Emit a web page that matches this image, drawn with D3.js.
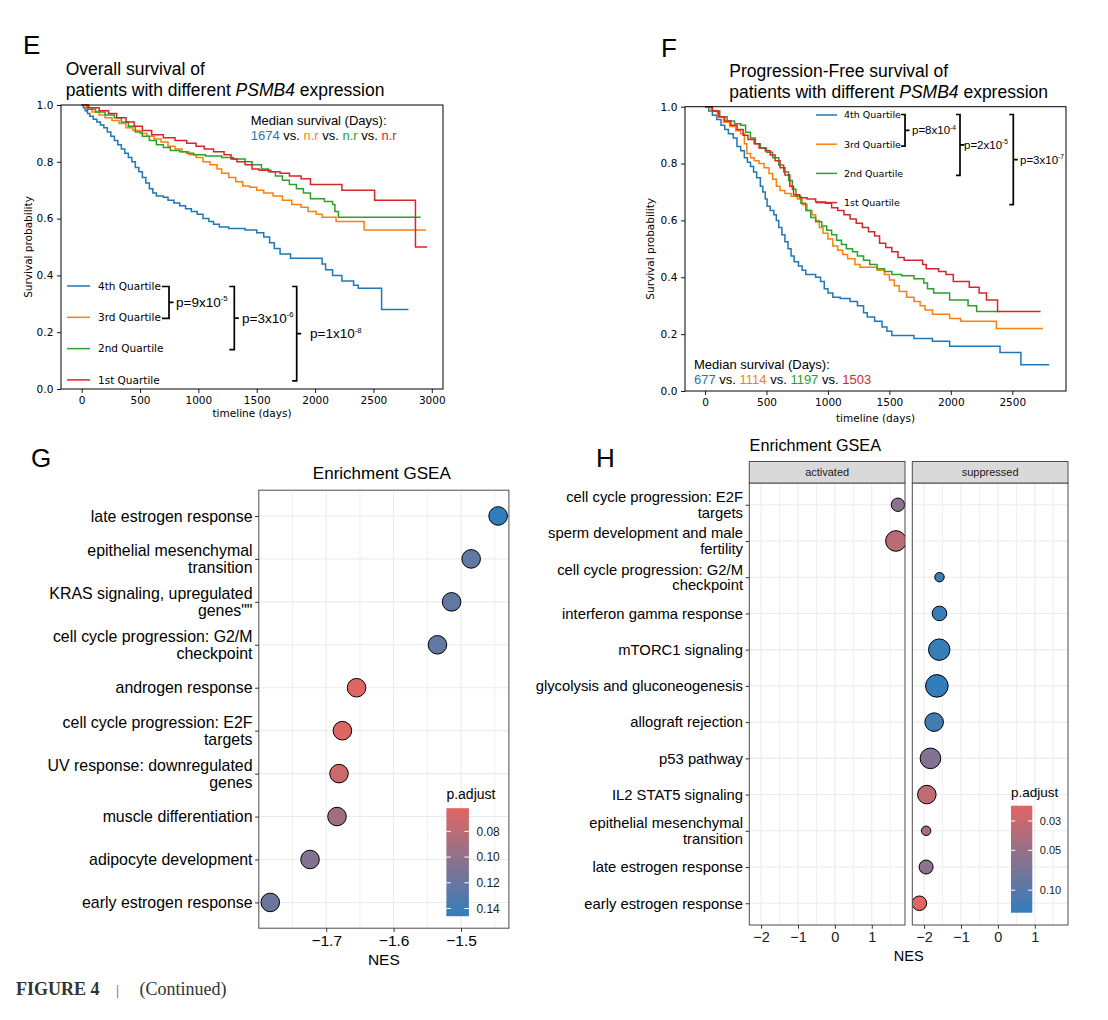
<!DOCTYPE html>
<html>
<head>
<meta charset="utf-8">
<script src="https://cdn.jsdelivr.net/npm/d3@7"></script>
<style>
  body { margin: 0; background: #fff; }
  svg { display: block; }
</style>
</head>
<body>
<svg id="fig" width="1108" height="1020"></svg>
<script>
// ---------- data ----------
const quartileLabels = ["4th Quartile", "3rd Quartile", "2nd Quartile", "1st Quartile"];
const quartileColors = ["#1f77b4", "#ff7f0e", "#2ca02c", "#d62728"];

// overall survival, [days, survival probability]
const osQ4 = [[0,1],[15,0.99],[30,0.98],[50,0.97],[70,0.96],[100,0.95],[130,0.94],[160,0.93],[190,0.92],
  [220,0.905],[250,0.89],[280,0.875],[310,0.86],[340,0.845],[370,0.83],[400,0.815],[430,0.8],[460,0.78],
  [490,0.765],[520,0.745],[550,0.725],[580,0.705],[610,0.69],[640,0.68],[700,0.675],[740,0.665],[790,0.655],
  [840,0.645],[890,0.635],[940,0.625],[990,0.615],[1040,0.6],[1090,0.59],[1130,0.58],[1180,0.57],[1260,0.565],
  [1400,0.56],[1500,0.55],[1560,0.535],[1610,0.515],[1650,0.495],[1700,0.475],[1790,0.46],[2060,0.44],
  [2090,0.42],[2150,0.4],[2230,0.38],[2330,0.365],[2370,0.355],[2570,0.28],[2800,0.28]];
const osQ3 = [[0,1],[40,0.985],[90,0.975],[150,0.965],[200,0.955],[260,0.945],[320,0.935],[380,0.92],
  [440,0.91],[500,0.9],[560,0.89],[620,0.88],[680,0.87],[740,0.855],[800,0.845],[860,0.835],[920,0.825],
  [980,0.815],[1040,0.8],[1100,0.79],[1160,0.775],[1200,0.76],[1260,0.745],[1320,0.73],[1380,0.715],
  [1440,0.71],[1500,0.7],[1560,0.69],[1640,0.68],[1720,0.665],[1800,0.65],[1880,0.64],[1940,0.625],
  [2010,0.615],[2060,0.605],[2180,0.59],[2420,0.56],[2950,0.56]];
const osQ2 = [[0,1],[50,0.985],[120,0.975],[200,0.965],[280,0.955],[340,0.94],[400,0.925],[460,0.905],
  [520,0.89],[580,0.875],[640,0.86],[700,0.85],[760,0.84],[840,0.835],[900,0.83],[960,0.825],[1060,0.82],
  [1200,0.815],[1300,0.81],[1400,0.8],[1460,0.79],[1540,0.775],[1600,0.765],[1660,0.75],[1720,0.735],
  [1780,0.72],[1840,0.705],[1900,0.69],[1960,0.67],[2080,0.66],[2150,0.65],[2170,0.625],[2200,0.605],[2905,0.605]];
const osQ1 = [[0,1],[60,0.99],[150,0.98],[230,0.97],[300,0.955],[380,0.94],[450,0.925],[520,0.91],
  [600,0.895],[700,0.885],[800,0.875],[900,0.865],[980,0.855],[1050,0.845],[1130,0.835],[1220,0.825],
  [1280,0.81],[1330,0.8],[1400,0.79],[1460,0.775],[1520,0.77],[1620,0.765],[1700,0.76],[1780,0.75],
  [1880,0.74],[1960,0.72],[2230,0.7],[2510,0.665],[2860,0.5],[2960,0.5]];

// progression-free survival, [days, survival probability]
const pfsQ4 = [[0,1],[30,0.985],[60,0.97],[95,0.955],[130,0.935],[160,0.92],[190,0.905],[230,0.89],
  [260,0.86],[290,0.845],[320,0.82],[345,0.805],[370,0.79],[395,0.77],[420,0.75],[450,0.72],[470,0.7],
  [490,0.675],[505,0.65],[530,0.635],[560,0.62],[580,0.6],[600,0.575],[625,0.55],[650,0.525],[675,0.5],
  [700,0.475],[725,0.455],[760,0.44],[790,0.425],[820,0.41],[900,0.4],[940,0.385],[970,0.36],[1000,0.345],
  [1040,0.33],[1100,0.325],[1180,0.315],[1240,0.3],[1290,0.275],[1320,0.26],[1380,0.245],[1440,0.225],
  [1480,0.21],[1520,0.195],[1700,0.185],[1850,0.175],[1990,0.157],[2400,0.135],[2570,0.092],[2800,0.092]];
const pfsQ3 = [[0,1],[50,0.985],[100,0.965],[150,0.945],[200,0.93],[250,0.915],[290,0.905],[320,0.87],
  [340,0.835],[370,0.82],[400,0.81],[440,0.8],[480,0.785],[520,0.765],[550,0.745],[580,0.72],[610,0.705],
  [650,0.695],[700,0.685],[750,0.675],[790,0.655],[830,0.635],[870,0.62],[900,0.6],[930,0.575],[960,0.555],
  [1000,0.535],[1040,0.51],[1080,0.495],[1120,0.48],[1160,0.465],[1220,0.445],[1260,0.435],[1400,0.425],
  [1460,0.41],[1500,0.39],[1540,0.37],[1580,0.35],[1640,0.33],[1700,0.315],[1750,0.3],[1790,0.285],
  [1850,0.27],[1990,0.255],[2080,0.245],[2370,0.22],[2750,0.22]];
const pfsQ2 = [[0,1],[60,0.985],[120,0.965],[180,0.95],[240,0.94],[290,0.935],[330,0.91],[370,0.89],
  [410,0.87],[450,0.855],[500,0.84],[550,0.82],[600,0.795],[640,0.77],[680,0.74],[710,0.71],[740,0.685],
  [780,0.66],[820,0.635],[860,0.61],[900,0.595],[950,0.58],[990,0.565],[1030,0.55],[1070,0.53],[1110,0.515],
  [1150,0.5],[1200,0.49],[1240,0.475],[1290,0.46],[1340,0.445],[1400,0.43],[1460,0.42],[1520,0.41],
  [1600,0.405],[1700,0.395],[1780,0.38],[1810,0.36],[1860,0.345],[1990,0.32],[2140,0.3],[2210,0.28],[2390,0.28]];
const pfsQ1 = [[0,1],[60,0.985],[110,0.965],[160,0.95],[210,0.935],[260,0.92],[310,0.9],[350,0.885],
  [400,0.87],[440,0.855],[490,0.845],[530,0.83],[570,0.81],[610,0.785],[650,0.76],[690,0.72],[720,0.69],
  [770,0.68],[830,0.675],[900,0.665],[980,0.66],[1030,0.645],[1080,0.635],[1130,0.62],[1180,0.605],
  [1230,0.59],[1280,0.575],[1330,0.56],[1380,0.545],[1420,0.52],[1470,0.505],[1520,0.49],[1570,0.47],
  [1620,0.46],[1770,0.445],[1800,0.43],[1900,0.42],[1960,0.41],[2020,0.385],[2150,0.365],[2230,0.345],
  [2290,0.32],[2380,0.28],[2730,0.28]];

const osMedian = ["1674", "n.r", "n.r", "n.r"];
const pfsMedian = ["677", "1114", "1197", "1503"];
const osPvalues = [["9", "-5"], ["3", "-6"], ["1", "-8"]];   // 4th vs 3rd, vs 2nd, vs 1st
const pfsPvalues = [["8", "-4"], ["2", "-5"], ["3", "-7"]];
const osTicks = [0, 500, 1000, 1500, 2000, 2500, 3000];
const pfsTicks = [0, 500, 1000, 1500, 2000, 2500];
const survTicks = [0, 0.2, 0.4, 0.6, 0.8, 1.0];

// panel G, GSEA
const gTerms = ["late estrogen response", "epithelial mesenchymal\ntransition",
  "KRAS signaling, upregulated\ngenes\"\"", "cell cycle progression: G2/M\ncheckpoint",
  "androgen response", "cell cycle progression: E2F\ntargets", "UV response: downregulated\ngenes",
  "muscle differentiation", "adipocyte development", "early estrogen response"];
const gNES = [-1.445, -1.485, -1.514, -1.535, -1.655, -1.676, -1.681, -1.684, -1.724, -1.783];
const gPadj = [0.146, 0.123, 0.123, 0.123, 0.062, 0.064, 0.071, 0.094, 0.107, 0.119];
const gTicks = [-1.7, -1.6, -1.5];
const gLegendBreaks = [0.08, 0.10, 0.12, 0.14];

// panel H, GSEA split by sign
const hTerms = ["cell cycle progression: E2F\ntargets", "sperm development and male\nfertility",
  "cell cycle progression: G2/M\ncheckpoint", "interferon gamma response", "mTORC1 signaling",
  "glycolysis and gluconeogenesis", "allograft rejection", "p53 pathway", "IL2 STAT5 signaling",
  "epithelial mesenchymal\ntransition", "late estrogen response", "early estrogen response"];
const hSign = ["activated", "activated", "suppressed", "suppressed", "suppressed", "suppressed",
  "suppressed", "suppressed", "suppressed", "suppressed", "suppressed", "suppressed"];
const hNES = [1.708, 1.654, -1.583, -1.583, -1.59, -1.654, -1.728, -1.828, -1.926, -1.946, -1.946, -2.128];
const hPadj = [0.058, 0.034, 0.135, 0.138, 0.145, 0.148, 0.123, 0.063, 0.033, 0.043, 0.056, 0.023];
const hCount = [42, 100, 21, 50, 108, 120, 81, 100, 81, 21, 46, 50];
const hFacets = ["activated", "suppressed"];
const hTicks = [-2, -1, 0, 1];
const hLegendBreaks = [0.03, 0.05, 0.10];

// ---------- drawing ----------
const SANS = "'Liberation Sans', Arial, Helvetica, sans-serif";
const MPL = "'DejaVu Sans', sans-serif";
const SERIF = "'Liberation Serif', 'Times New Roman', serif";

const svg = d3.select("#fig");
svg.append("rect").attr("width", 1108).attr("height", 1020).attr("fill", "#fff");

function panelLetter(txt, x, y) {
  svg.append("text").attr("x", x).attr("y", y)
    .attr("font-family", SANS).attr("font-size", 26).attr("fill", "#000").text(txt);
}

function kmPanel(o) {
  const g = svg.append("g");
  const x = d3.scaleLinear().domain(o.xDomain).range([o.left, o.right]);
  const y = d3.scaleLinear().domain([0, 1]).range([o.bottom, o.top]);

  const xAxis = g.append("g").attr("transform", `translate(0,${o.bottom})`)
    .call(d3.axisBottom(x).tickValues(o.xTicks).tickFormat(d3.format("d")).tickSize(4).tickPadding(3.5));
  const yAxis = g.append("g").attr("transform", `translate(${o.left},0)`)
    .call(d3.axisLeft(y).tickValues(survTicks).tickFormat(d3.format(".1f")).tickSize(4).tickPadding(3.7));
  [xAxis, yAxis].forEach(a => {
    a.attr("font-family", MPL).attr("font-size", 10.5);
    a.select(".domain").remove();
    a.selectAll(".tick line").attr("stroke", "#000").attr("stroke-width", 0.9);
    a.selectAll(".tick text").attr("fill", "#000");
  });

  const line = d3.line().x(d => x(d[0])).y(d => y(d[1])).curve(d3.curveStepAfter);
  g.selectAll("path.km")
    .data(o.curves)
    .enter()
    .append("path")
    .attr("class", "km")
    .attr("d", line)
    .attr("fill", "none")
    .attr("stroke", (d, i) => quartileColors[i])
    .attr("stroke-width", 1.5);

  g.append("rect")
    .attr("x", o.left).attr("y", o.top)
    .attr("width", o.right - o.left).attr("height", o.bottom - o.top)
    .attr("fill", "none").attr("stroke", "#000").attr("stroke-width", 1);

  // axis titles
  g.append("text").attr("x", (o.left + o.right) / 2).attr("y", o.xLabelY)
    .attr("text-anchor", "middle").attr("font-family", MPL).attr("font-size", 10.5)
    .text("timeline (days)");
  g.append("text").attr("transform", `translate(${o.yLabelX},${(o.top + o.bottom) / 2}) rotate(-90)`)
    .attr("text-anchor", "middle").attr("dy", "0.35em")
    .attr("font-family", MPL).attr("font-size", 10.5).text("Survival probability");

  // title
  const title = g.append("g").attr("font-family", SANS).attr("font-size", 17.5).attr("fill", "#000");
  title.append("text").attr("x", o.titleX).attr("y", o.titleY).attr("dy", "0.35em").text(o.title);
  const t2 = title.append("text").attr("x", o.titleX).attr("y", o.titleY + 21.5).attr("dy", "0.35em");
  t2.append("tspan").text("patients with different ");
  t2.append("tspan").attr("font-style", "italic").text("PSMB4");
  t2.append("tspan").text(" expression");

  // legend
  const legY = i => o.legTop + i * o.legStep;
  const leg = g.append("g").attr("font-family", MPL).attr("font-size", o.legFont);
  leg.selectAll("line")
    .data(quartileLabels)
    .enter()
    .append("line")
    .attr("x1", o.legX).attr("x2", o.legX + o.legLen)
    .attr("y1", (d, i) => legY(i)).attr("y2", (d, i) => legY(i))
    .attr("stroke", (d, i) => quartileColors[i]).attr("stroke-width", 1.5);
  leg.selectAll("text")
    .data(quartileLabels)
    .enter()
    .append("text")
    .attr("x", o.legX + o.legLen + o.legGap)
    .attr("y", (d, i) => legY(i)).attr("dy", "0.35em")
    .text(d => d);

  // brackets with log-rank p-values
  o.pvalues.forEach((p, k) => {
    const yt = legY(0) + o.brTop, yb = legY(k + 1) + o.brBot;
    const bx = o.brX[k], arm = o.brArm[k], ym = (yt + yb) / 2;
    g.append("path")
      .attr("d", `M${bx - arm},${yt}H${bx}V${yb}H${bx - arm}M${bx},${ym}H${bx + 4.5}`)
      .attr("fill", "none").attr("stroke", "#000").attr("stroke-width", 1.7);
    const t = g.append("text").attr("x", o.pX[k]).attr("y", ym).attr("dy", "0.35em")
      .attr("font-family", SANS).attr("font-size", o.pFont).text(`p=${p[0]}x10`);
    t.append("tspan").attr("dy", -o.pFont * 0.42).attr("font-size", o.pFont * 0.58).text(p[1]);
  });

  // median survival
  const med = g.append("g").attr("font-family", SANS).attr("font-size", 13);
  med.append("text").attr("x", o.medX).attr("y", o.medY).attr("dy", "0.35em").text("Median survival (Days):");
  const mt = med.append("text").attr("x", o.medX).attr("y", o.medY + 15.5).attr("dy", "0.35em");
  o.median.forEach((m, i) => {
    if (i > 0) mt.append("tspan").attr("fill", "#000").text(" vs. ");
    mt.append("tspan").attr("fill", quartileColors[i]).text(m);
  });
}

kmPanel({
  left: 61, right: 443, top: 105, bottom: 389, xDomain: [-177, 3096], xTicks: osTicks,
  curves: [osQ4, osQ3, osQ2, osQ1],
  xLabelY: 417, yLabelX: 28.5,
  title: "Overall survival of", titleX: 65.7, titleY: 68.5,
  legX: 67, legLen: 23, legGap: 8, legTop: 286, legStep: 31.3, legFont: 10.5,
  pvalues: osPvalues, brX: [169, 234.3, 296.7], brArm: [7, 5, 4.5], brTop: 0.5, brBot: 1,
  pX: [176, 242, 310], pFont: 13.5,
  median: osMedian, medX: 250.7, medY: 120
});

kmPanel({
  left: 685, right: 1066, top: 106.7, bottom: 391, xDomain: [-163, 2937], xTicks: pfsTicks,
  curves: [pfsQ4, pfsQ3, pfsQ2, pfsQ1],
  xLabelY: 421.5, yLabelX: 650,
  title: "Progression-Free survival of", titleX: 729.3, titleY: 70.7,
  legX: 816, legLen: 21, legGap: 7, legTop: 115, legStep: 29.2, legFont: 9.5,
  pvalues: pfsPvalues, brX: [905, 960, 1013.3], brArm: [4, 4, 4], brTop: -0.5, brBot: 2,
  pX: [912, 964, 1020], pFont: 11.5,
  median: pfsMedian, medX: 694, medY: 364.3
});

panelLetter("E", 23, 53.5);
panelLetter("F", 661, 56.5);
panelLetter("G", 31, 467);
panelLetter("H", 596, 466.5);

// ---------- GSEA helpers ----------
function wrapLabels(axisG, offset) {
  axisG.selectAll(".tick text").each(function (d) {
    const lines = d.split("\n");
    const t = d3.select(this).text(null).attr("dy", null);
    lines.forEach((l, i) => {
      t.append("tspan").attr("x", -offset)
        .attr("dy", i === 0 ? (0.32 - (lines.length - 1) * 0.535) + "em" : "1.07em")
        .text(l);
    });
  });
}

function colorbar(o) {
  const grad = svg.append("defs").append("linearGradient")
    .attr("id", o.id).attr("x1", 0).attr("y1", 0).attr("x2", 0).attr("y2", 1);
  d3.range(0, 1.0001, 0.1).forEach(t => {
    grad.append("stop").attr("offset", t)
      .attr("stop-color", o.color(o.pos.invert(o.top + t * (o.bottom - o.top))));
  });
  svg.append("text").attr("x", o.x).attr("y", o.top - 13.8).attr("dy", "0.35em")
    .attr("font-family", SANS).attr("font-size", o.titleFont).text("p.adjust");
  svg.append("rect").attr("x", o.x).attr("y", o.top).attr("width", o.w).attr("height", o.bottom - o.top)
    .attr("fill", `url(#${o.id})`);
  const br = svg.append("g");
  br.selectAll("line.l").data(o.breaks).enter().append("line")
    .attr("x1", o.x).attr("x2", o.x + o.w * 0.2)
    .attr("y1", d => o.pos(d)).attr("y2", d => o.pos(d))
    .attr("stroke", "#fff").attr("stroke-width", 1);
  br.selectAll("line.r").data(o.breaks).enter().append("line")
    .attr("x1", o.x + o.w * 0.8).attr("x2", o.x + o.w)
    .attr("y1", d => o.pos(d)).attr("y2", d => o.pos(d))
    .attr("stroke", "#fff").attr("stroke-width", 1);
  br.selectAll("text").data(o.breaks).enter().append("text")
    .attr("x", o.x + o.w + 7.5).attr("y", d => o.pos(d)).attr("dy", "0.35em")
    .attr("font-family", SANS).attr("font-size", o.labelFont).attr("fill", "#1a1a1a")
    .text(d3.format(".2f"));
}

const lowColor = "#e06663", highColor = "#327eba";

// ---------- panel G ----------
{
  const left = 258.8, right = 508.9, top = 490.2, bottom = 928.2;
  const x = d3.scaleLinear().domain([-1.800, -1.429]).range([left, right]);
  const y = d3.scalePoint().domain(gTerms).range([top, bottom]).padding(0.6);
  const color = d3.scaleLinear().domain(d3.extent(gPadj)).range([lowColor, highColor]).interpolate(d3.interpolateRgb);
  const g = svg.append("g");

  svg.append("text").attr("x", (left + right) / 2 - 2).attr("y", 472.7).attr("dy", "0.35em")
    .attr("text-anchor", "middle").attr("font-family", SANS).attr("font-size", 17).text("Enrichment GSEA");

  const minor = [-1.75, -1.65, -1.55, -1.45];
  g.selectAll("line.minor").data(minor).enter().append("line")
    .attr("x1", d => x(d)).attr("x2", d => x(d)).attr("y1", top).attr("y2", bottom)
    .attr("stroke", "#ebebeb").attr("stroke-width", 0.8);
  g.selectAll("line.vmajor").data(gTicks).enter().append("line")
    .attr("x1", d => x(d)).attr("x2", d => x(d)).attr("y1", top).attr("y2", bottom)
    .attr("stroke", "#ebebeb").attr("stroke-width", 1.1);
  g.selectAll("line.hmajor").data(gTerms).enter().append("line")
    .attr("x1", left).attr("x2", right).attr("y1", d => y(d)).attr("y2", d => y(d))
    .attr("stroke", "#ebebeb").attr("stroke-width", 1.1);

  g.selectAll("circle")
    .data(gTerms.map((t, i) => ({ term: t, nes: gNES[i], p: gPadj[i] })))
    .enter()
    .append("circle")
    .attr("cx", d => x(d.nes)).attr("cy", d => y(d.term)).attr("r", 9.3)
    .attr("fill", d => color(d.p)).attr("stroke", "#000").attr("stroke-width", 1);

  g.append("rect").attr("x", left).attr("y", top).attr("width", right - left).attr("height", bottom - top)
    .attr("fill", "none").attr("stroke", "#4d4d4d").attr("stroke-width", 1);

  const xa = g.append("g").attr("transform", `translate(0,${bottom})`)
    .call(d3.axisBottom(x).tickValues(gTicks).tickFormat(d3.format(".1f")).tickSize(3.7).tickPadding(3.5));
  const ya = g.append("g").attr("transform", `translate(${left},0)`)
    .call(d3.axisLeft(y).tickSize(3.7).tickPadding(2.6));
  [xa, ya].forEach(a => {
    a.select(".domain").remove();
    a.selectAll(".tick line").attr("stroke", "#333");
    a.selectAll(".tick text").attr("fill", "#000");
  });
  xa.attr("font-family", SANS).attr("font-size", 15.5);
  ya.attr("font-family", SANS).attr("font-size", 15.9);
  wrapLabels(ya, 6.3);

  g.append("text").attr("x", (left + right) / 2).attr("y", 959.8).attr("dy", "0.35em")
    .attr("text-anchor", "middle").attr("font-family", SANS).attr("font-size", 15.5).text("NES");

  const pos = d3.scaleLinear().domain(d3.extent(gPadj)).range([808.2, 916.2]);
  colorbar({ id: "gradG", x: 446.4, w: 22.5, top: 808.2, bottom: 916.2, pos, color,
    breaks: gLegendBreaks, titleFont: 14, labelFont: 12 });
}

// ---------- panel H ----------
{
  const top = 483, bottom = 925, stripTop = 461.5;
  const facetRange = { activated: [749.3, 905], suppressed: [912.3, 1068] };
  const xDomain = [-2.32, 1.90];
  const xs = {};
  hFacets.forEach(f => { xs[f] = d3.scaleLinear().domain(xDomain).range(facetRange[f]); });
  const y = d3.scalePoint().domain(hTerms).range([top, bottom]).padding(0.6);
  const color = d3.scaleLog().domain(d3.extent(hPadj)).range([lowColor, highColor]).interpolate(d3.interpolateRgb);
  const size = d3.scaleSqrt().domain([0, 120]).range([0, 11.3]);
  const rows = hTerms.map((t, i) => ({ term: t, sign: hSign[i], nes: hNES[i], p: hPadj[i], n: hCount[i] }));

  svg.append("text").attr("x", 749.6).attr("y", 445.5).attr("dy", "0.35em")
    .attr("font-family", SANS).attr("font-size", 16.2).text("Enrichment GSEA");

  const defs = svg.append("defs");
  hFacets.forEach(f => {
    const [l, r] = facetRange[f];
    const x = xs[f];
    const g = svg.append("g");
    defs.append("clipPath").attr("id", "clip-" + f)
      .append("rect").attr("x", l).attr("y", top).attr("width", r - l).attr("height", bottom - top);

    const minor = [-1.5, -0.5, 0.5, 1.5];
    g.selectAll("line.minor").data(minor).enter().append("line")
      .attr("x1", d => x(d)).attr("x2", d => x(d)).attr("y1", top).attr("y2", bottom)
      .attr("stroke", "#ebebeb").attr("stroke-width", 0.8);
    g.selectAll("line.vmajor").data(hTicks).enter().append("line")
      .attr("x1", d => x(d)).attr("x2", d => x(d)).attr("y1", top).attr("y2", bottom)
      .attr("stroke", "#ebebeb").attr("stroke-width", 1.1);
    g.selectAll("line.hmajor").data(hTerms).enter().append("line")
      .attr("x1", l).attr("x2", r).attr("y1", d => y(d)).attr("y2", d => y(d))
      .attr("stroke", "#ebebeb").attr("stroke-width", 1.1);

    g.append("g").attr("clip-path", `url(#clip-${f})`)
      .selectAll("circle")
      .data(rows.filter(d => d.sign === f))
      .enter()
      .append("circle")
      .attr("cx", d => x(d.nes)).attr("cy", d => y(d.term)).attr("r", d => size(d.n))
      .attr("fill", d => color(d.p)).attr("stroke", "#000").attr("stroke-width", 1);

    g.append("rect").attr("x", l).attr("y", top).attr("width", r - l).attr("height", bottom - top)
      .attr("fill", "none").attr("stroke", "#4d4d4d").attr("stroke-width", 1);

    // strip
    g.append("rect").attr("x", l).attr("y", stripTop).attr("width", r - l).attr("height", top - stripTop)
      .attr("fill", "#d9d9d9").attr("stroke", "#4d4d4d").attr("stroke-width", 1);
    g.append("text").attr("x", (l + r) / 2).attr("y", (stripTop + top) / 2).attr("dy", "0.35em")
      .attr("text-anchor", "middle").attr("font-family", SANS).attr("font-size", 11)
      .attr("fill", "#1a1a1a").text(f);

    const xa = g.append("g").attr("transform", `translate(0,${bottom})`)
      .call(d3.axisBottom(x).tickValues(hTicks).tickFormat(d3.format("d")).tickSize(3.7).tickPadding(3));
    xa.attr("font-family", SANS).attr("font-size", 14.5);
    xa.select(".domain").remove();
    xa.selectAll(".tick line").attr("stroke", "#333");
    xa.selectAll(".tick text").attr("fill", "#1a1a1a");
  });

  const ya = svg.append("g").attr("transform", `translate(${facetRange.activated[0]},0)`)
    .call(d3.axisLeft(y).tickSize(3.7).tickPadding(2.6));
  ya.attr("font-family", SANS).attr("font-size", 14.8);
  ya.select(".domain").remove();
  ya.selectAll(".tick line").attr("stroke", "#333");
  ya.selectAll(".tick text").attr("fill", "#000");
  wrapLabels(ya, 6.3);

  svg.append("text").attr("x", (facetRange.activated[0] + facetRange.suppressed[1]) / 2).attr("y", 956)
    .attr("dy", "0.35em").attr("text-anchor", "middle").attr("font-family", SANS).attr("font-size", 14.5)
    .text("NES");

  const pos = d3.scaleLog().domain(d3.extent(hPadj)).range([805.7, 912.7]);
  colorbar({ id: "gradH", x: 1011, w: 21.3, top: 805.7, bottom: 912.7, pos, color,
    breaks: hLegendBreaks, titleFont: 13.5, labelFont: 11 });
}

// ---------- caption ----------
const cap = svg.append("text").attr("x", 16).attr("y", 994.5).attr("font-family", SERIF).attr("font-size", 18).attr("fill", "#333");
cap.append("tspan").attr("font-weight", "bold").text("FIGURE 4");
cap.append("tspan").attr("x", 116).attr("font-size", 15).attr("fill", "#555").text("|");
cap.append("tspan").attr("x", 139.5).text("(Continued)");
</script>
</body>
</html>
